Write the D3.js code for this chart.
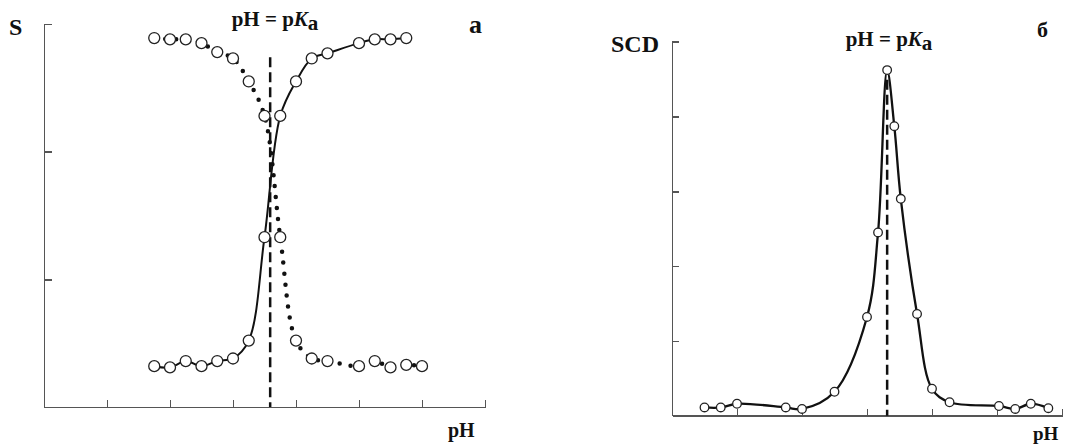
<!DOCTYPE html>
<html>
<head>
<meta charset="utf-8">
<script src="https://cdn.jsdelivr.net/npm/d3@7"></script>
<style>
  body { margin: 0; background: #fff; }
  svg text { font-family: "Liberation Serif", "DejaVu Serif", serif; font-weight: bold; fill: #111; }
  .axis path, .axis line { stroke: #555; stroke-width: 1.5px; shape-rendering: crispEdges; }
</style>
</head>
<body>
<div id="chart"></div>
<script>
// panel a: S vs pH, two titration curves
var phA = [1.75, 2, 2.25, 2.5, 2.75, 3, 3.25, 3.5, 3.75, 4, 4.25, 4.5, 5, 5.25, 5.5, 5.75];
var riseA = [0.32, 0.31, 0.36, 0.32, 0.36, 0.38, 0.52, 1.33, 2.28, 2.55, 2.73, 2.77, 2.85, 2.88, 2.88, 2.89];
var phA2 = [1.75, 2, 2.25, 2.5, 2.75, 3, 3.25, 3.5, 3.75, 4, 4.25, 4.5, 5, 5.25, 5.5, 5.75, 6];
var fallA = [2.89, 2.88, 2.88, 2.85, 2.78, 2.73, 2.55, 2.28, 1.33, 0.52, 0.38, 0.36, 0.32, 0.36, 0.31, 0.33, 0.32];
var pKaA = 3.59;
var xTicksA = [1, 2, 3, 4, 5, 6, 7];
var yTicksA = [1, 2, 3];

// panel б: SCD vs pH
var phB = [0.5, 0.75, 1, 1.75, 2, 2.5, 3, 3.17, 3.31, 3.42, 3.52, 3.77, 4, 4.27, 5.03, 5.28, 5.52, 5.79];
var scdB = [0.11, 0.11, 0.16, 0.11, 0.09, 0.32, 1.32, 2.45, 4.62, 3.87, 2.9, 1.36, 0.36, 0.18, 0.13, 0.09, 0.16, 0.1];
var pKaB = 3.31;
var xTicksB = [1, 2, 3, 4, 5, 6];
var yTicksB = [1, 2, 3, 4, 5];

var svg = d3.select("#chart").append("svg")
  .attr("width", 1065).attr("height", 446);

function pkaLabel(g, x, y) {
  var t = g.append("text").attr("x", x).attr("y", y)
    .attr("text-anchor", "middle").style("font-size", "21px");
  t.append("tspan").text("pH = p");
  t.append("tspan").style("font-style", "italic").text("K");
  t.append("tspan").attr("dy", 4).text("a");
}

// ---- panel a ----
var xa = d3.scaleLinear().domain([0, 7]).range([44, 485]);
var ya = d3.scaleLinear().domain([0, 3]).range([407, 24]);

svg.append("g").attr("class", "axis")
  .attr("transform", "translate(0," + ya(0) + ")")
  .call(d3.axisBottom(xa).tickValues(xTicksA).tickSize(-7).tickSizeOuter(0).tickFormat(""));
svg.append("g").attr("class", "axis")
  .attr("transform", "translate(" + xa(0) + ",0)")
  .call(d3.axisLeft(ya).tickValues(yTicksA).tickSize(-8).tickSizeOuter(0).tickFormat(""));

svg.append("line")
  .attr("x1", xa(pKaA)).attr("x2", xa(pKaA))
  .attr("y1", ya(2.74)).attr("y2", ya(0))
  .attr("stroke", "#111").attr("stroke-width", 2.5)
  .attr("stroke-dasharray", "10,5");

var lineA = d3.line().curve(d3.curveCatmullRom.alpha(0.5))
  .x(function(d) { return xa(d[0]); }).y(function(d) { return ya(d[1]); });
var rise = d3.zip(phA, riseA), fall = d3.zip(phA2, fallA);

svg.append("path").datum(fall).attr("d", lineA)
  .attr("fill", "none").attr("stroke", "#111").attr("stroke-width", 4.5)
  .attr("stroke-linecap", "round").attr("stroke-dasharray", "0,11");
svg.append("path").datum(rise).attr("d", lineA)
  .attr("fill", "none").attr("stroke", "#111").attr("stroke-width", 2);

svg.append("g").selectAll("circle").data(rise.concat(fall)).enter()
  .append("circle")
  .attr("cx", function(d) { return xa(d[0]); })
  .attr("cy", function(d) { return ya(d[1]); })
  .attr("r", 5.5).attr("fill", "#fff").attr("stroke", "#222").attr("stroke-width", 1.3);

svg.append("text").attr("x", 9).attr("y", 35).style("font-size", "24px").text("S");
pkaLabel(svg, 275, 26);
svg.append("text").attr("x", 469).attr("y", 33).style("font-size", "26px").text("а");
svg.append("text").attr("x", 448).attr("y", 437).style("font-size", "20px").text("pH");

// ---- panel б ----
var xb = d3.scaleLinear().domain([0, 6]).range([672, 1062]);
var yb = d3.scaleLinear().domain([0, 5]).range([415.7, 41.7]);

svg.append("g").attr("class", "axis")
  .attr("transform", "translate(0," + yb(0) + ")")
  .call(d3.axisBottom(xb).tickValues(xTicksB).tickSize(-7).tickSizeOuter(0).tickFormat(""));
svg.append("g").attr("class", "axis")
  .attr("transform", "translate(" + xb(0) + ",0)")
  .call(d3.axisLeft(yb).tickValues(yTicksB).tickSize(-7).tickSizeOuter(0).tickFormat(""));

svg.append("line")
  .attr("x1", xb(pKaB)).attr("x2", xb(pKaB))
  .attr("y1", yb(4.49)).attr("y2", yb(0))
  .attr("stroke", "#111").attr("stroke-width", 2.5)
  .attr("stroke-dasharray", "10,5");

var lineB = d3.line().curve(d3.curveCatmullRom.alpha(0.5))
  .x(function(d) { return xb(d[0]); }).y(function(d) { return yb(d[1]); });
var peak = d3.zip(phB, scdB);

svg.append("path").datum(peak).attr("d", lineB)
  .attr("fill", "none").attr("stroke", "#111").attr("stroke-width", 2.3);

svg.append("g").selectAll("circle").data(peak).enter()
  .append("circle")
  .attr("cx", function(d) { return xb(d[0]); })
  .attr("cy", function(d) { return yb(d[1]); })
  .attr("r", 4.3).attr("fill", "#fff").attr("stroke", "#222").attr("stroke-width", 1.3);

svg.append("text").attr("x", 611).attr("y", 52).style("font-size", "24px").text("SCD");
pkaLabel(svg, 889, 46);
svg.append("text").attr("x", 1037).attr("y", 37).style("font-size", "22px").text("б");
svg.append("text").attr("x", 1033).attr("y", 440).style("font-size", "19px").text("pH");
</script>
</body>
</html>
